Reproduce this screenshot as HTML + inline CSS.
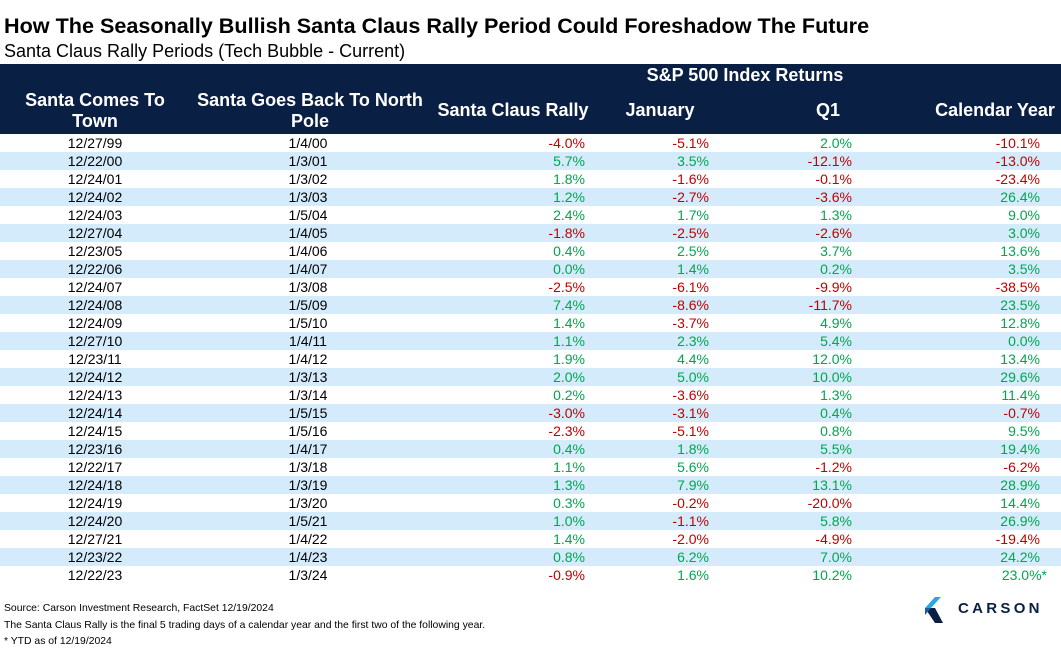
<!DOCTYPE html>
<html><head><meta charset="utf-8"><style>
body{margin:0;width:1061px;height:652px;background:#fff;font-family:"Liberation Sans",Arial,sans-serif;position:relative;overflow:hidden}
.t{position:absolute;left:4px;top:13px;font-size:21.6px;font-weight:bold;color:#000}
.s{position:absolute;left:4px;top:41px;font-size:18px;color:#000}
.hd{position:absolute;left:0;top:64px;width:1061px;height:70px;background:#0a1f44;color:#fff;font-weight:bold;font-size:18px}
.hd div{position:absolute;text-align:center;line-height:21px;white-space:nowrap}
.row{position:absolute;left:0;width:1061px;height:18px;font-size:14px;line-height:18px}
.row span{position:absolute}
.b{background:#d3ebfb}
.r{color:#c00000}.g{color:#00a650}
.f{position:absolute;left:4px;font-size:10.4px;color:#000}
</style></head><body>
<div class="t">How The Seasonally Bullish Santa Claus Rally Period Could Foreshadow The Future</div>
<div class="s">Santa Claus Rally Periods (Tech Bubble - Current)</div>
<div class="hd">
<div style="left:640px;width:210px;top:1px">S&amp;P 500 Index Returns</div>
<div style="left:0px;width:190px;top:26px">Santa Comes To<br>Town</div>
<div style="left:180px;width:260px;top:26px">Santa Goes Back To North<br>Pole</div>
<div style="left:428px;width:170px;top:36px">Santa Claus Rally</div>
<div style="left:610px;width:100px;top:36px">January</div>
<div style="left:793px;width:70px;top:36px">Q1</div>
<div style="left:925px;width:140px;top:36px">Calendar Year</div>
</div>
<div id="rows"></div>
<div class="f" style="top:603px">Source: Carson Investment Research, FactSet 12/19/2024</div>
<div class="f" style="top:620px">The Santa Claus Rally is the final 5 trading days of a calendar year and the first two of the following year.</div>
<div class="f" style="top:636px">* YTD as of 12/19/2024</div>
<svg style="position:absolute;left:925px;top:597px" width="20" height="26" viewBox="0 0 20 26"><polygon points="10,0 16,0 6,11 0,11" fill="#2aa7e0"/><polygon points="0,11 10,11 18,26 10,26" fill="#0a1f44"/><polygon points="0,11 6,11 0,18" fill="#1a5fa0"/></svg>
<div style="position:absolute;left:958px;top:600px;font-size:15px;letter-spacing:3.3px;color:#0a1f44;font-weight:bold">CARSON</div>
<script>
var d=[["12/27/99","1/4/00","-4.0%","-5.1%","2.0%","-10.1%"],["12/22/00","1/3/01","5.7%","3.5%","-12.1%","-13.0%"],["12/24/01","1/3/02","1.8%","-1.6%","-0.1%","-23.4%"],["12/24/02","1/3/03","1.2%","-2.7%","-3.6%","26.4%"],["12/24/03","1/5/04","2.4%","1.7%","1.3%","9.0%"],["12/27/04","1/4/05","-1.8%","-2.5%","-2.6%","3.0%"],["12/23/05","1/4/06","0.4%","2.5%","3.7%","13.6%"],["12/22/06","1/4/07","0.0%","1.4%","0.2%","3.5%"],["12/24/07","1/3/08","-2.5%","-6.1%","-9.9%","-38.5%"],["12/24/08","1/5/09","7.4%","-8.6%","-11.7%","23.5%"],["12/24/09","1/5/10","1.4%","-3.7%","4.9%","12.8%"],["12/27/10","1/4/11","1.1%","2.3%","5.4%","0.0%"],["12/23/11","1/4/12","1.9%","4.4%","12.0%","13.4%"],["12/24/12","1/3/13","2.0%","5.0%","10.0%","29.6%"],["12/24/13","1/3/14","0.2%","-3.6%","1.3%","11.4%"],["12/24/14","1/5/15","-3.0%","-3.1%","0.4%","-0.7%"],["12/24/15","1/5/16","-2.3%","-5.1%","0.8%","9.5%"],["12/23/16","1/4/17","0.4%","1.8%","5.5%","19.4%"],["12/22/17","1/3/18","1.1%","5.6%","-1.2%","-6.2%"],["12/24/18","1/3/19","1.3%","7.9%","13.1%","28.9%"],["12/24/19","1/3/20","0.3%","-0.2%","-20.0%","14.4%"],["12/24/20","1/5/21","1.0%","-1.1%","5.8%","26.9%"],["12/27/21","1/4/22","1.4%","-2.0%","-4.9%","-19.4%"],["12/23/22","1/4/23","0.8%","6.2%","7.0%","24.2%"],["12/22/23","1/3/24","-0.9%","1.6%","10.2%","23.0%*"]];
var rights=[1061-585,1061-709,1061-852,1061-1047],h="";
d.forEach(function(r,i){h+='<div class="row'+(i%2?' b':'')+'" style="top:'+(134+i*18)+'px"><span style="left:45px;width:100px;text-align:center">'+r[0]+'</span><span style="left:258px;width:100px;text-align:center">'+r[1]+'</span>';
for(var j=0;j<4;j++){var v=r[j+2];var c=v[0]=='-'?'r':'g';var rr=rights[j];if(j==3&&v.indexOf('*')<0)rr+=7;h+='<span class="'+c+'" style="right:'+rr+'px">'+v+'</span>';}
h+='</div>';});
document.getElementById('rows').innerHTML=h;
</script>
</body></html>
